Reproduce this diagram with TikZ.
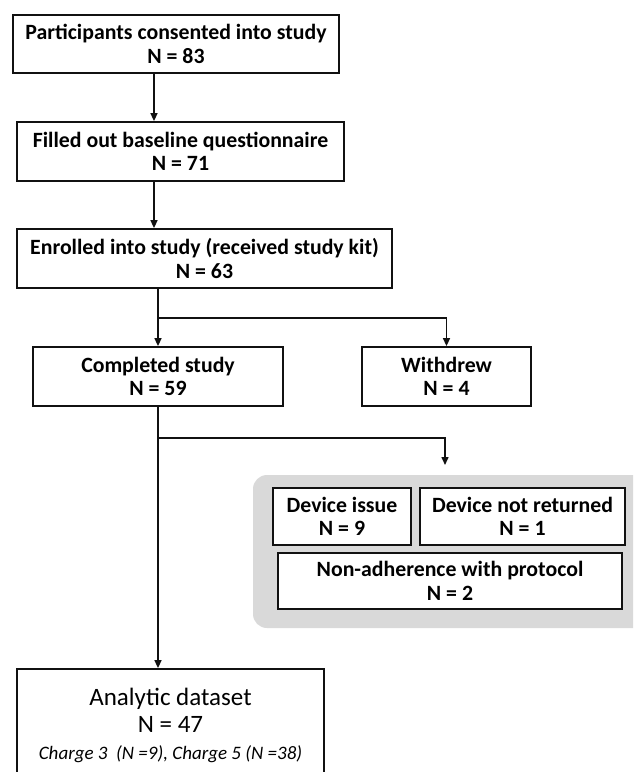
\documentclass[tikz,border=0pt]{standalone}
\usepackage{fontspec}
\setmainfont{Carlito}
\usetikzlibrary{arrows.meta, positioning, calc}
\definecolor{Ink}{HTML}{111111}
\definecolor{Panel}{HTML}{D9D9D9}

\begin{document}
\begin{tikzpicture}[
  x=1pt, y=1pt,
  box/.style={draw=Ink, line width=1.8pt, fill=white, align=center, inner sep=0pt, minimum height=59pt, font=\fontsize{21.8}{23.5}\selectfont\bfseries},
  arrow/.style={-{Triangle[length=8pt, width=7pt]}, line width=1.5pt, draw=Ink},
  link/.style={line width=1.5pt, draw=Ink}
]
\useasboundingbox (0,0) rectangle (633,-772);
\clip (0,0) rectangle (633,-772);

\fill[Panel, rounded corners=14pt] (253,-475) rectangle (665,-628);

\node[box, minimum width=326pt, minimum height=58pt] (consent) at (176,-44) {Participants consented into study\\N = 83};
\node[box, minimum width=327pt] (filled) at (180.5,-151.5) {Filled out baseline questionnaire\\N = 71};
\node[box, minimum width=375pt] (enrol) at (204.5,-258.5) {Enrolled into study (received study kit)\\N = 63};

\node[box, minimum width=250pt] (done) at (158,-376.5) {Completed study\\N = 59};
\node[box, minimum width=169pt] (withdrew) at (446.5,-376.5) {Withdrew\\N = 4};

\node[box, minimum width=138pt, minimum height=57pt] (devissue) at (342,-516.5) {Device issue\\N = 9};
\node[box, minimum width=205pt, minimum height=57pt] (notret) at (522.5,-516.5) {Device not returned\\N = 1};
\node[box, minimum width=344pt, minimum height=56pt] (nonadh) at (450,-581) {Non-adherence with protocol\\N = 2};

\node[box, minimum width=307pt, minimum height=112pt, font=\fontsize{25}{27}\selectfont] (analytic) at (170.5,-725)
  {Analytic dataset\\N = 47\\{\fontsize{19}{25}\selectfont\itshape Charge 3\ \ (N =9), Charge 5 (N =38)}};

\coordinate (split) at (done.north |- 0,-318);
\coordinate (fork) at (done.south |- 0,-438);
\coordinate (drop) at (445,-465);

\draw[arrow] ([xshift=-22pt]consent.south) -- ([xshift=-22pt]consent.south |- filled.north);
\draw[arrow] ([xshift=-26.5pt]filled.south) -- ([xshift=-26.5pt]filled.south |- enrol.north);
\draw[link] (enrol.south -| done.north) -- (split);
\draw[arrow] (split) -- (done.north);
\draw[arrow] (split) -| (withdrew.north);
\draw[arrow] (done.south) -- (done.south |- analytic.north);
\draw[arrow] (fork) -| (drop);
\end{tikzpicture}
\end{document}
